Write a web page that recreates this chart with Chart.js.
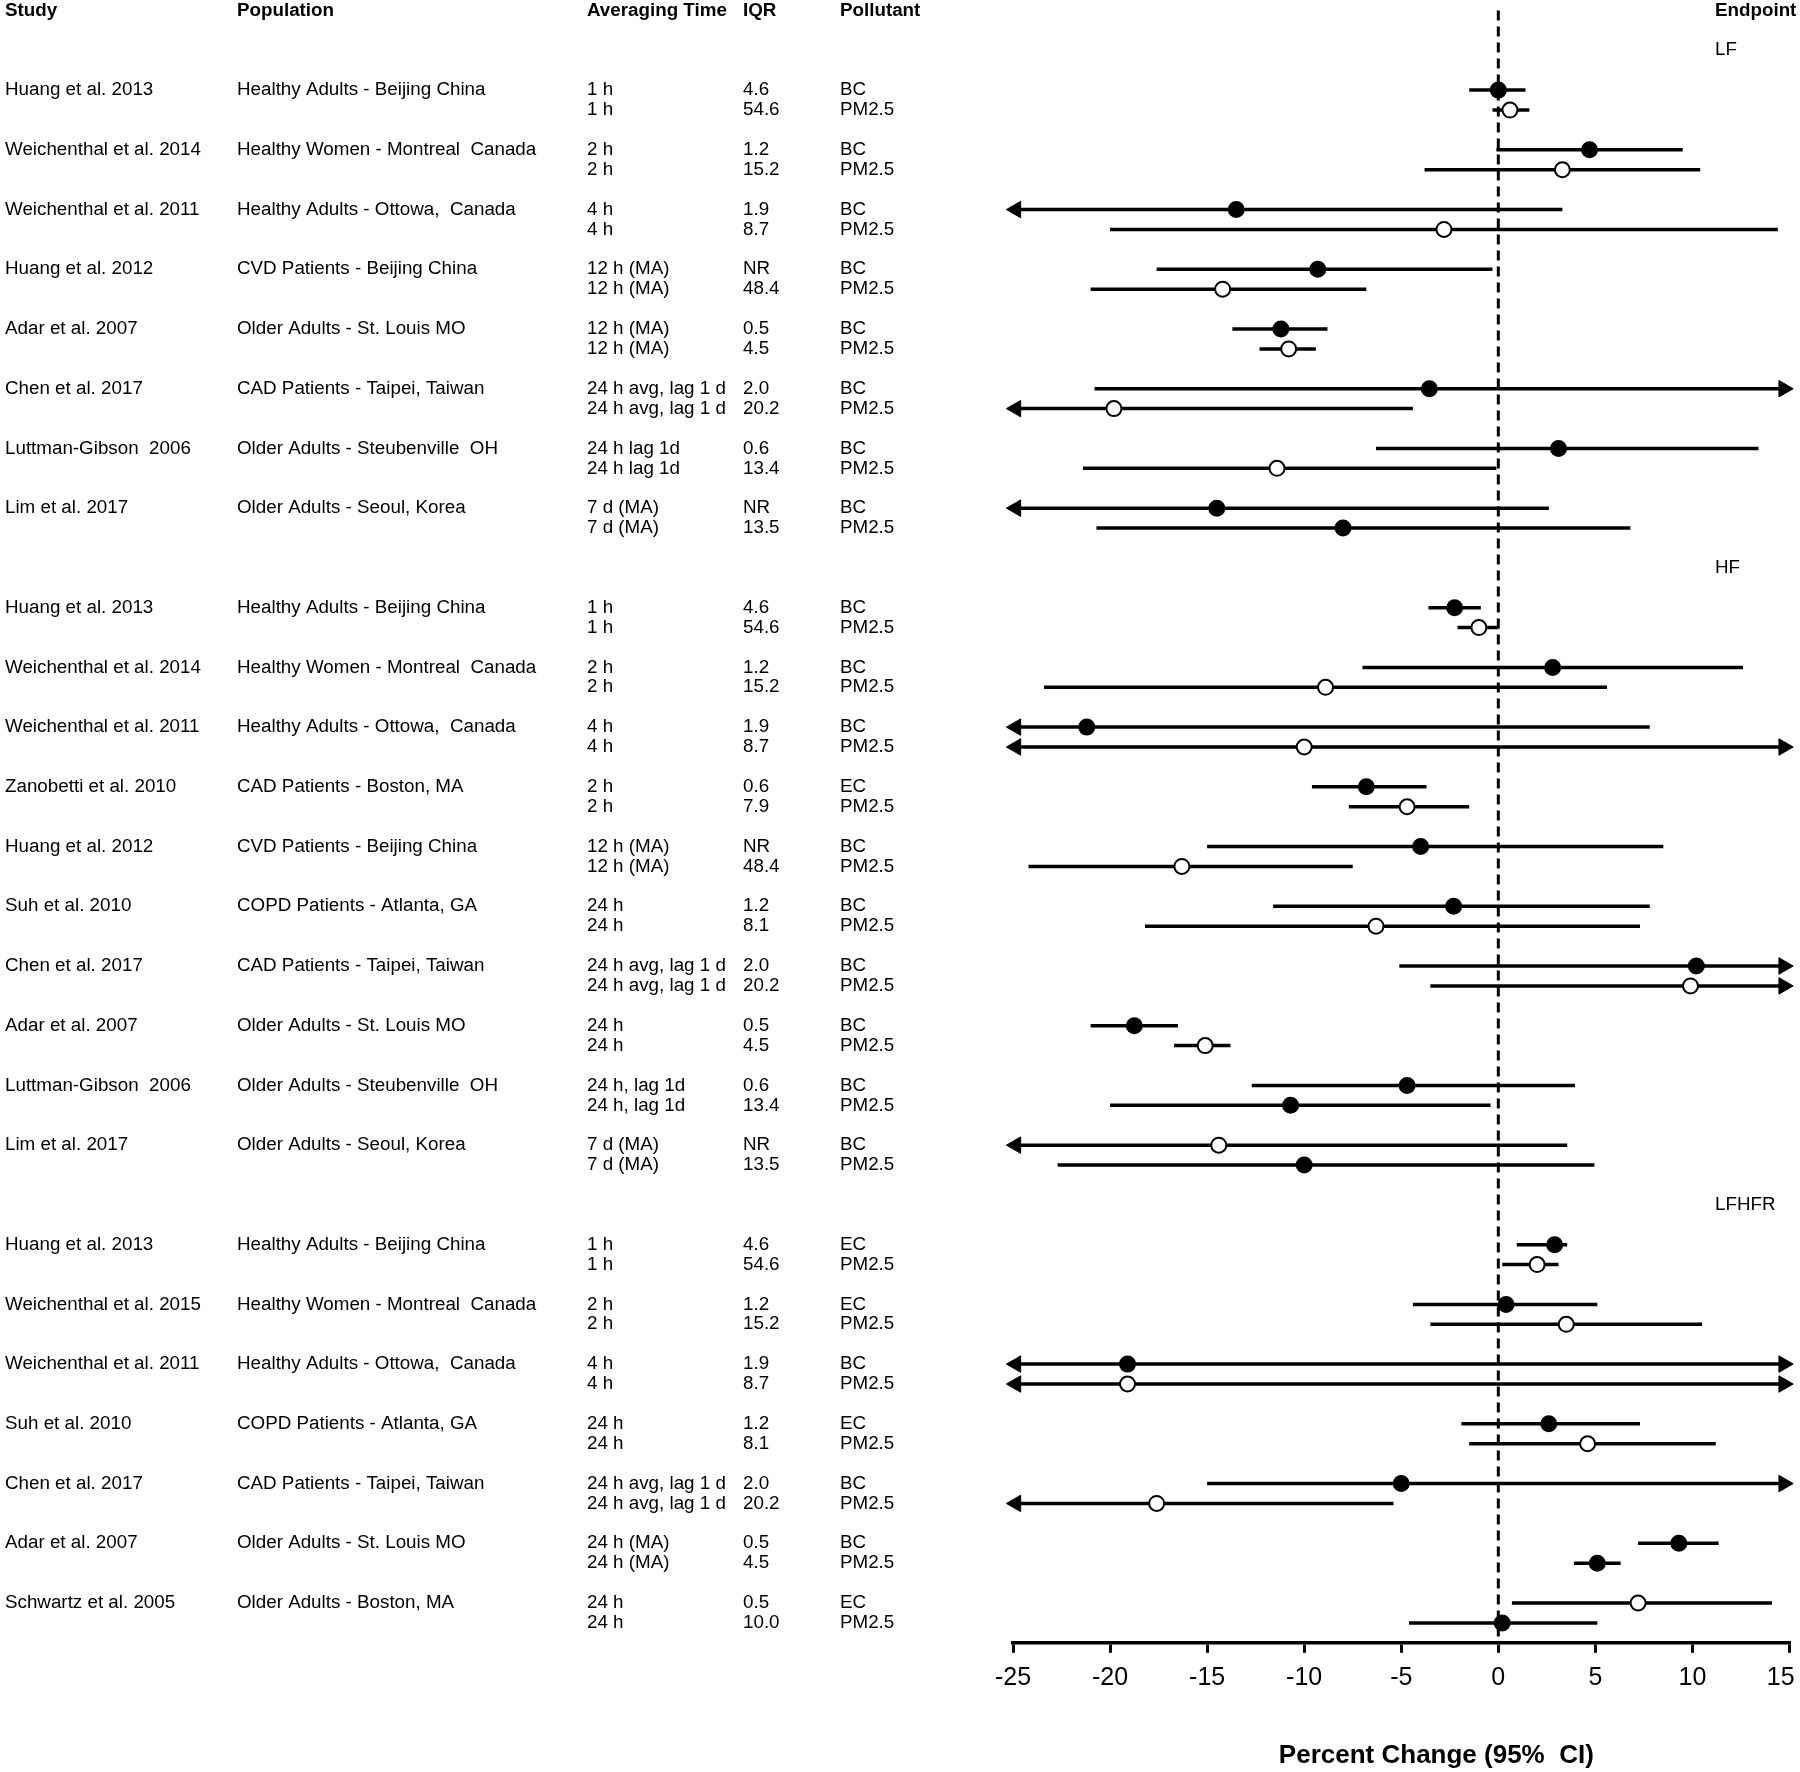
<!DOCTYPE html>
<html lang="en">

<head>
  <meta charset="UTF-8">
  <title>Percent Change (95% CI)</title>
  <script src="https://cdn.jsdelivr.net/npm/chart.js"></script>
  <style>
    body { margin: 0; background: #fff; }
    canvas { display: block; }
  </style>
</head>

<body>
  <canvas id="grafico" width="1800" height="1772"></canvas>

  <script>
    // dados (um item por estudo, pares = [BC/EC, PM2.5])
    const endpoints = ['LF', 'HF', 'LFHFR']
    const endpointOf = [
      'LF', 'LF', 'LF', 'LF', 'LF', 'LF', 'LF', 'LF',
      'HF', 'HF', 'HF', 'HF', 'HF', 'HF', 'HF', 'HF', 'HF', 'HF',
      'LFHFR', 'LFHFR', 'LFHFR', 'LFHFR', 'LFHFR', 'LFHFR', 'LFHFR'
    ]
    const studies = [
      'Huang et al. 2013', 'Weichenthal et al. 2014', 'Weichenthal et al. 2011', 'Huang et al. 2012',
      'Adar et al. 2007', 'Chen et al. 2017', 'Luttman-Gibson  2006', 'Lim et al. 2017',
      'Huang et al. 2013', 'Weichenthal et al. 2014', 'Weichenthal et al. 2011', 'Zanobetti et al. 2010',
      'Huang et al. 2012', 'Suh et al. 2010', 'Chen et al. 2017', 'Adar et al. 2007',
      'Luttman-Gibson  2006', 'Lim et al. 2017',
      'Huang et al. 2013', 'Weichenthal et al. 2015', 'Weichenthal et al. 2011', 'Suh et al. 2010',
      'Chen et al. 2017', 'Adar et al. 2007', 'Schwartz et al. 2005'
    ]
    const populations = [
      'Healthy Adults - Beijing China', 'Healthy Women - Montreal  Canada', 'Healthy Adults - Ottowa,  Canada',
      'CVD Patients - Beijing China', 'Older Adults - St. Louis MO', 'CAD Patients - Taipei, Taiwan',
      'Older Adults - Steubenville  OH', 'Older Adults - Seoul, Korea',
      'Healthy Adults - Beijing China', 'Healthy Women - Montreal  Canada', 'Healthy Adults - Ottowa,  Canada',
      'CAD Patients - Boston, MA', 'CVD Patients - Beijing China', 'COPD Patients - Atlanta, GA',
      'CAD Patients - Taipei, Taiwan', 'Older Adults - St. Louis MO', 'Older Adults - Steubenville  OH',
      'Older Adults - Seoul, Korea',
      'Healthy Adults - Beijing China', 'Healthy Women - Montreal  Canada', 'Healthy Adults - Ottowa,  Canada',
      'COPD Patients - Atlanta, GA', 'CAD Patients - Taipei, Taiwan', 'Older Adults - St. Louis MO',
      'Older Adults - Boston, MA'
    ]
    const avgTimes = [
      ['1 h', '1 h'], ['2 h', '2 h'], ['4 h', '4 h'], ['12 h (MA)', '12 h (MA)'], ['12 h (MA)', '12 h (MA)'],
      ['24 h avg, lag 1 d', '24 h avg, lag 1 d'], ['24 h lag 1d', '24 h lag 1d'], ['7 d (MA)', '7 d (MA)'],
      ['1 h', '1 h'], ['2 h', '2 h'], ['4 h', '4 h'], ['2 h', '2 h'], ['12 h (MA)', '12 h (MA)'],
      ['24 h', '24 h'], ['24 h avg, lag 1 d', '24 h avg, lag 1 d'], ['24 h', '24 h'],
      ['24 h, lag 1d', '24 h, lag 1d'], ['7 d (MA)', '7 d (MA)'],
      ['1 h', '1 h'], ['2 h', '2 h'], ['4 h', '4 h'], ['24 h', '24 h'],
      ['24 h avg, lag 1 d', '24 h avg, lag 1 d'], ['24 h (MA)', '24 h (MA)'], ['24 h', '24 h']
    ]
    const iqrs = [
      ['4.6', '54.6'], ['1.2', '15.2'], ['1.9', '8.7'], ['NR', '48.4'], ['0.5', '4.5'],
      ['2.0', '20.2'], ['0.6', '13.4'], ['NR', '13.5'],
      ['4.6', '54.6'], ['1.2', '15.2'], ['1.9', '8.7'], ['0.6', '7.9'], ['NR', '48.4'],
      ['1.2', '8.1'], ['2.0', '20.2'], ['0.5', '4.5'], ['0.6', '13.4'], ['NR', '13.5'],
      ['4.6', '54.6'], ['1.2', '15.2'], ['1.9', '8.7'], ['1.2', '8.1'], ['2.0', '20.2'],
      ['0.5', '4.5'], ['0.5', '10.0']
    ]
    const pollutants = [
      ['BC', 'PM2.5'], ['BC', 'PM2.5'], ['BC', 'PM2.5'], ['BC', 'PM2.5'], ['BC', 'PM2.5'],
      ['BC', 'PM2.5'], ['BC', 'PM2.5'], ['BC', 'PM2.5'],
      ['BC', 'PM2.5'], ['BC', 'PM2.5'], ['BC', 'PM2.5'], ['EC', 'PM2.5'], ['BC', 'PM2.5'],
      ['BC', 'PM2.5'], ['BC', 'PM2.5'], ['BC', 'PM2.5'], ['BC', 'PM2.5'], ['BC', 'PM2.5'],
      ['EC', 'PM2.5'], ['EC', 'PM2.5'], ['BC', 'PM2.5'], ['EC', 'PM2.5'], ['BC', 'PM2.5'],
      ['BC', 'PM2.5'], ['EC', 'PM2.5']
    ]
    // estimativa e IC 95% (null = passa do limite do eixo -> seta)
    const estimates = [
      [0.0, 0.6], [4.7, 3.3], [-13.5, -2.8], [-9.3, -14.2], [-11.2, -10.8], [-3.55, -19.8], [3.1, -11.4], [-14.5, -8.0],
      [-2.25, -1.0], [2.8, -8.9], [-21.2, -10.0], [-6.8, -4.7], [-4.0, -16.3], [-2.3, -6.3], [10.2, 9.9],
      [-18.75, -15.1], [-4.7, -10.7], [-14.4, -10.0],
      [2.9, 2.0], [0.4, 3.5], [-19.1, -19.1], [2.6, 4.6], [-5.0, -17.6], [9.3, 5.1], [7.2, 0.2]
    ]
    const lowers = [
      [-1.5, -0.3], [-0.1, -3.8], [null, -20.0], [-17.6, -21.0], [-13.7, -12.3], [-20.8, null], [-6.3, -21.4], [null, -20.7],
      [-3.6, -2.1], [-7.0, -23.4], [null, null], [-9.6, -7.7], [-15.0, -24.2], [-11.6, -18.2], [-5.1, -3.5],
      [-21.0, -16.7], [-12.7, -20.0], [null, -22.7],
      [0.95, 0.2], [-4.4, -3.5], [null, null], [-1.9, -1.5], [-15.0, null], [7.2, 3.9], [0.7, -4.6]
    ]
    const uppers = [
      [1.4, 1.6], [9.5, 10.4], [3.3, 14.4], [-0.3, -6.8], [-8.8, -9.4], [null, -4.4], [13.4, -0.1], [2.6, 6.8],
      [-0.9, 0.0], [12.6, 5.6], [7.8, null], [-3.7, -1.5], [8.5, -7.5], [7.8, 7.3], [null, null],
      [-16.5, -13.8], [3.95, -0.4], [3.55, 4.95],
      [3.55, 3.1], [5.1, 10.5], [null, null], [7.3, 11.2], [null, -5.4], [11.35, 6.3], [14.1, 5.1]
    ]
    const openMarker = [
      [false, true], [false, true], [false, true], [false, true], [false, true], [false, true], [false, true], [false, false],
      [false, true], [false, true], [false, true], [false, true], [false, true], [false, true], [false, true],
      [false, true], [false, false], [true, false],
      [false, true], [false, true], [false, true], [false, true], [false, true], [false, false], [true, false]
    ]
    const xTicks = [-25, -20, -15, -10, -5, 0, 5, 10, 15]

    const FONTE = '"Liberation Sans", Arial, sans-serif'
    const SETA_ESQ = -24.85 // centro da seta quando o IC passa do eixo
    const SETA_DIR = 14.7

    // posição vertical (em "linhas") de cada estudo e do rótulo de cada endpoint
    let slotEstudo = []
    let slotEndpoint = []
    let slot = 0
    for (let e = 0; e < endpoints.length; e++) {
      slotEndpoint.push(slot)
      let n = 0
      for (let i = 0; i < studies.length; i++) {
        if (endpointOf[i] == endpoints[e]) {
          slotEstudo[i] = slot + 2 + 3 * n
          n++
        }
      }
      slot = slot + 3 * n + 2
    }

    // montando os datasets
    let pontos = []
    let cores = []
    let datasets = []
    for (let i = 0; i < studies.length; i++) {
      for (let k = 0; k < 2; k++) {
        let y = slotEstudo[i] + k
        pontos.push({ x: estimates[i][k], y: y })
        cores.push(openMarker[i][k] ? '#ffffff' : '#000000')

        let lo = lowers[i][k], hi = uppers[i][k]
        datasets.push({
          type: 'line',
          data: [{ x: lo == null ? SETA_ESQ : lo, y: y }, { x: hi == null ? SETA_DIR : hi, y: y }],
          borderColor: '#000',
          borderWidth: 3.5,
          pointStyle: 'triangle',
          pointRadius: [lo == null ? 9.5 : 0, hi == null ? 9.5 : 0],
          pointRotation: [-90, 90],
          pointBackgroundColor: '#000',
          pointBorderColor: '#000',
          pointBorderWidth: 1,
          clip: false,
          order: 2
        })
      }
    }

    // linha tracejada no zero
    datasets.push({
      type: 'line',
      data: [{ x: 0, y: -2 }, { x: 0, y: 80 }],
      borderColor: '#000',
      borderWidth: 3,
      borderDash: [10, 6],
      pointRadius: 0,
      clip: false,
      order: 3
    })

    // marcadores (desenhados por cima)
    datasets.unshift({
      type: 'scatter',
      data: pontos,
      pointRadius: 7.5,
      pointBorderWidth: 2,
      pointBorderColor: '#000',
      pointBackgroundColor: cores,
      clip: false,
      order: 0
    })

    // textos da tabela à esquerda
    const tabela = {
      id: 'tabela',
      afterDraw(chart) {
        const ctx = chart.ctx
        const yScale = chart.scales.y
        ctx.save()
        ctx.fillStyle = '#000'
        ctx.textBaseline = 'middle'
        ctx.textAlign = 'left'

        let yTopo = yScale.getPixelForValue(-2)
        ctx.font = 'bold 18.8px ' + FONTE
        ctx.fillText('Study', 5, yTopo)
        ctx.fillText('Population', 237, yTopo)
        ctx.fillText('Averaging Time', 587, yTopo)
        ctx.fillText('IQR', 743, yTopo)
        ctx.fillText('Pollutant', 840, yTopo)
        ctx.fillText('Endpoint', 1715, yTopo)

        ctx.font = '18.8px ' + FONTE
        for (let e = 0; e < endpoints.length; e++) {
          ctx.fillText(endpoints[e], 1715, yScale.getPixelForValue(slotEndpoint[e]))
        }
        for (let i = 0; i < studies.length; i++) {
          let y1 = yScale.getPixelForValue(slotEstudo[i])
          let y2 = yScale.getPixelForValue(slotEstudo[i] + 1)
          ctx.fillText(studies[i], 5, y1)
          ctx.fillText(populations[i], 237, y1)
          ctx.fillText(avgTimes[i][0], 587, y1)
          ctx.fillText(avgTimes[i][1], 587, y2)
          ctx.fillText(iqrs[i][0], 743, y1)
          ctx.fillText(iqrs[i][1], 743, y2)
          ctx.fillText(pollutants[i][0], 840, y1)
          ctx.fillText(pollutants[i][1], 840, y2)
        }
        ctx.restore()
      }
    }

    new Chart(document.getElementById('grafico'), {
      type: 'scatter',
      data: { datasets: datasets },
      options: {
        responsive: false,
        animation: false,
        devicePixelRatio: 1,
        events: [],
        layout: { padding: { left: 1013, right: 8, top: 9.7, bottom: 1 } },
        scales: {
          x: {
            type: 'linear',
            min: -25,
            max: 15,
            afterBuildTicks: function (axis) {
              axis.ticks = xTicks.map(v => ({ value: v }))
            },
            afterFit: function (axis) {
              axis.paddingLeft = 0
              axis.paddingRight = 0
            },
            ticks: {
              color: '#000',
              font: { size: 25, family: FONTE },
              padding: 10,
              maxRotation: 0,
              autoSkip: false,
              callback: v => v == 15 ? '15\u2002\u2009' : String(v)
            },
            grid: { drawOnChartArea: false, drawTicks: true, tickLength: 10, lineWidth: 3, color: '#000' },
            border: { display: true, color: '#000', width: 3.5 },
            title: {
              display: true,
              // espaços no início empurram o título um pouco para a direita, como no original
              text: '\u2003\u2003\u2002\u2009Percent Change (95%  CI)',
              color: '#000',
              font: { size: 26, weight: 'bold', family: FONTE },
              padding: { top: 37, bottom: 0 }
            }
          },
          y: { type: 'linear', min: -2, max: 80, reverse: true, display: false }
        },
        plugins: {
          legend: { display: false },
          tooltip: { enabled: false }
        }
      },
      plugins: [tabela]
    })
  </script>
</body>

</html>
